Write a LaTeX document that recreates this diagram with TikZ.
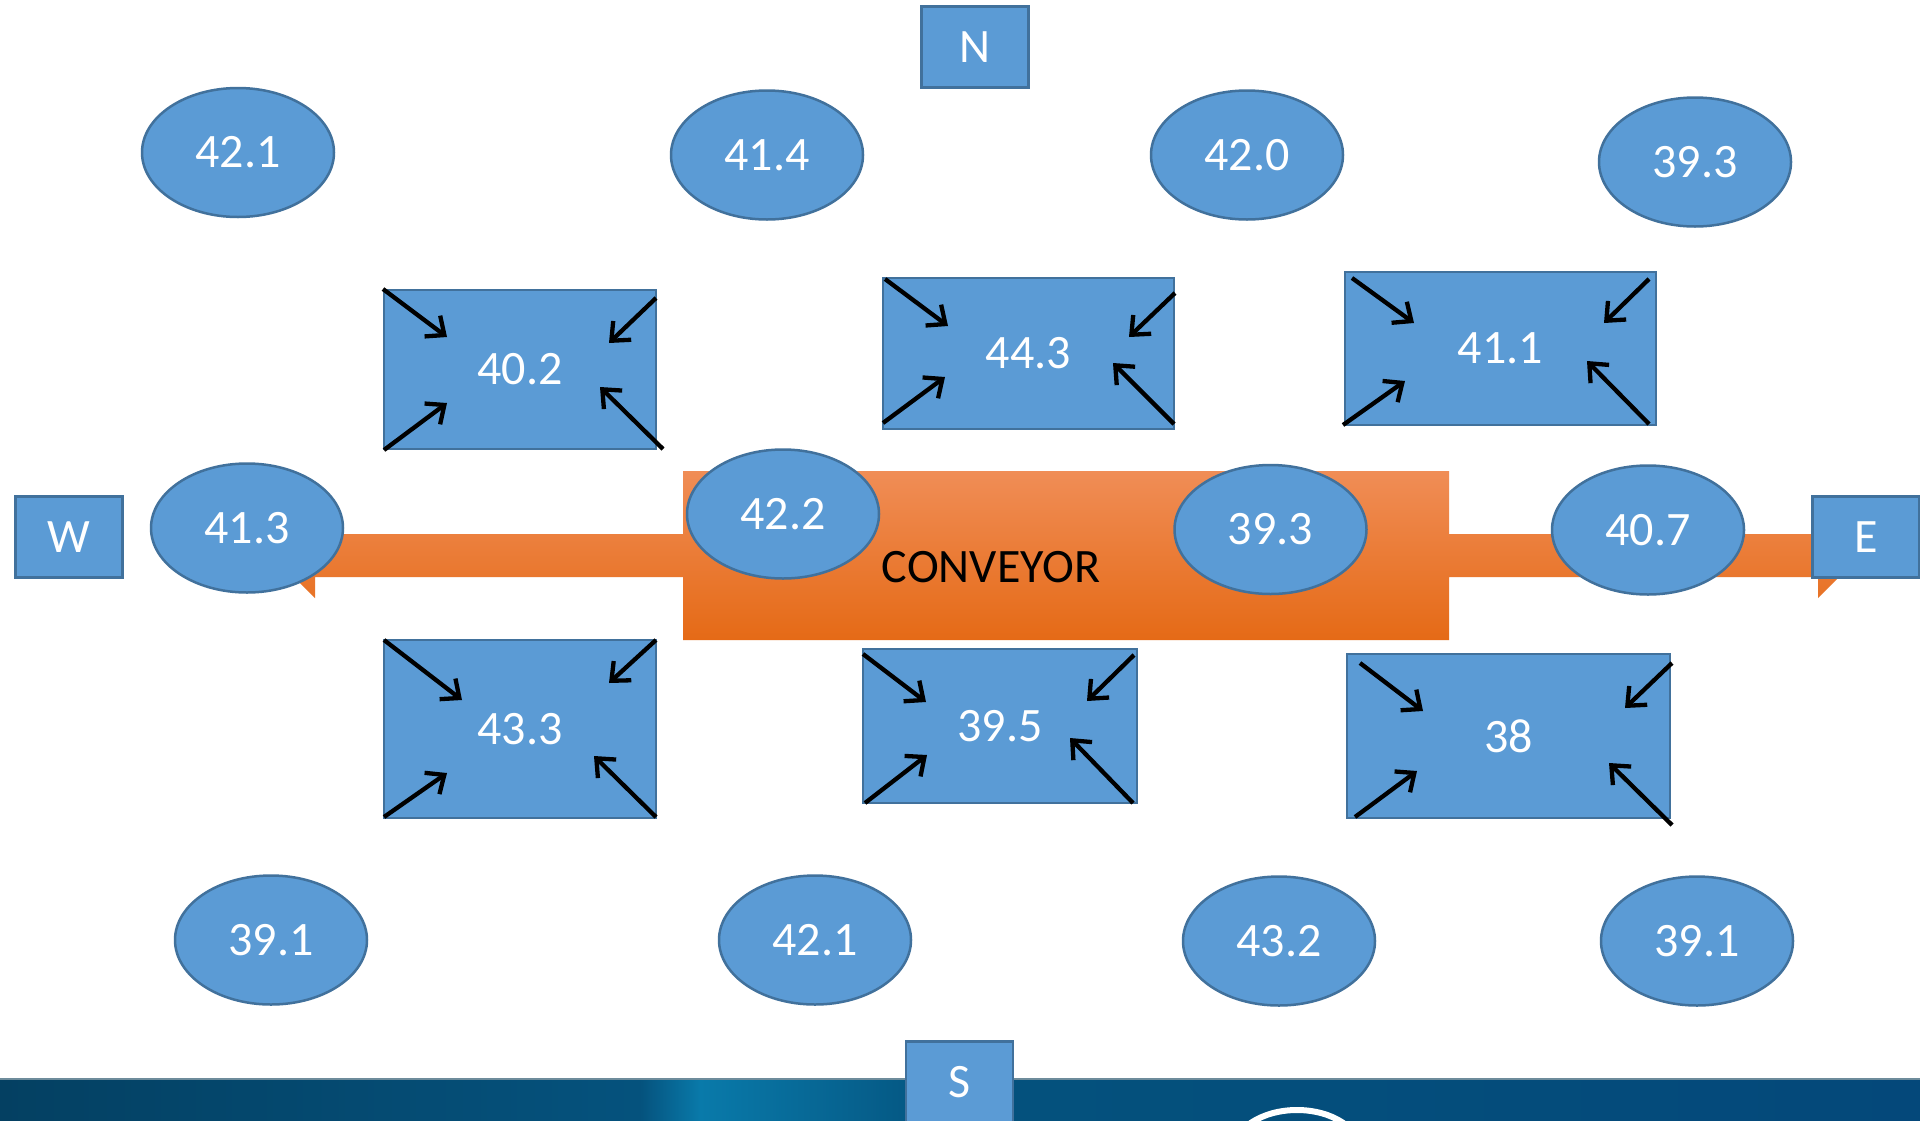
\documentclass[tikz,border=0pt]{standalone}
\usepackage{fontspec}
\setmainfont{Carlito}
\usetikzlibrary{arrows.meta,shapes.geometric}
\definecolor{bfill}{RGB}{91,155,213}
\definecolor{bline}{RGB}{65,113,156}
\definecolor{orTop}{RGB}{240,141,86}
\definecolor{orMid}{RGB}{244,128,46}
\definecolor{orBot}{RGB}{229,106,22}
\definecolor{bandA}{RGB}{4,64,98}
\definecolor{bandB}{RGB}{5,82,125}
\definecolor{bandC}{RGB}{9,122,170}
\definecolor{bandD}{RGB}{4,82,125}
\definecolor{bandE}{RGB}{4,72,122}
\begin{document}
\begin{tikzpicture}[x=1pt,y=-1pt,
  every node/.style={font=\fontsize{48}{56}\selectfont, text=white},
  oval/.style={ellipse, draw=bline, fill=bfill, line width=2.5pt, minimum width=192pt, minimum height=129pt, inner sep=0pt},
  dirbox/.style={rectangle, draw=bline, fill=bfill, line width=2.5pt, minimum width=107pt, minimum height=81pt, inner sep=0pt},
  zone/.style={rectangle, draw=bline, fill=bfill, line width=2.5pt, inner sep=0pt},
  inarrow/.style={draw=black, line width=4.3pt, -{Straight Barb[length=15pt,width=26pt]}}
]
\useasboundingbox (0,0) rectangle (1920,1120);
\fill[white] (0,0) rectangle (1920,1120);

% bottom band
\shade[left color=bandA, right color=bandB] (0,1079) rectangle (641,1121);
\shade[left color=bandB, right color=bandC] (640,1079) rectangle (701,1121);
\shade[left color=bandC, right color=bandD] (700,1079) rectangle (951,1121);
\shade[left color=bandD, right color=bandE] (950,1079) rectangle (1920,1121);
\draw[color={rgb,255:red,110;green,140;blue,155}, line width=2pt] (0,1079) -- (1920,1079);
\begin{scope}
\clip (0,1080) rectangle (1920,1120);
\draw[white, line width=6pt] (1297,1152) ellipse [x radius=64pt, y radius=42pt];
\end{scope}

% conveyor
\shade[top color=orTop, middle color=orMid, bottom color=orBot]
  (272,555.5) -- (315,513) -- (315,534) -- (683,534) -- (683,471) -- (1449,471)
  -- (1449,534) -- (1818,534) -- (1818,513) -- (1860.5,555.5) -- (1818,598)
  -- (1818,577) -- (1449,577) -- (1449,640) -- (683,640) -- (683,577)
  -- (315,577) -- (315,598) -- cycle;
\node[text=black] (conv) at (991,567) {CONVEYOR};

% direction boxes
\node[dirbox] (N) at (975,47) {N};
\node[dirbox] (W) at (69,537) {W};
\node[dirbox] (E) at (1866,537) {E};
\node[dirbox] (S) at (959.5,1082) {S};

% ovals
\node[oval] (o1) at (238,152.5) {42.1};
\node[oval] (o2) at (767,155) {41.4};
\node[oval] (o3) at (1247,155) {42.0};
\node[oval] (o4) at (1695,162) {39.3};
\node[oval] (o5) at (247,528) {41.3};
\node[oval] (o6) at (783,514) {42.2};
\node[oval] (o7) at (1270.5,529.5) {39.3};
\node[oval] (o8) at (1648,530) {40.7};
\node[oval] (o9) at (271,940) {39.1};
\node[oval] (o10) at (815,940) {42.1};
\node[oval] (o11) at (1279,941) {43.2};
\node[oval] (o12) at (1697,941) {39.1};

% zones
\node[zone, minimum width=272pt, minimum height=159pt] (z1) at (520,369.5) {40.2};
\node[zone, minimum width=291pt, minimum height=151pt] (z2) at (1028.5,353.5) {44.3};
\node[zone, minimum width=311pt, minimum height=153pt] (z3) at (1500.5,348.5) {41.1};
\node[zone, minimum width=272pt, minimum height=178pt] (z4) at (520,729) {43.3};
\node[zone, minimum width=274pt, minimum height=154pt] (z5) at (1000,726) {39.5};
\node[zone, minimum width=323pt, minimum height=164pt] (z6) at (1508.5,736) {38};

% arrows into zones
\draw[inarrow] (383,289) -- (447,337);
\draw[inarrow] (656,298) -- (609,343);
\draw[inarrow] (384,450) -- (447,403);
\draw[inarrow] (663,449) -- (600,387);

\draw[inarrow] (885,279) -- (948,326);
\draw[inarrow] (1175,293) -- (1129,337);
\draw[inarrow] (883,423) -- (945,377);
\draw[inarrow] (1174,424) -- (1113,363);

\draw[inarrow] (1352,278) -- (1414,323);
\draw[inarrow] (1649,279) -- (1604,323);
\draw[inarrow] (1343,425) -- (1405,381);
\draw[inarrow] (1649,424) -- (1587,361);

\draw[inarrow] (384,640) -- (462,700);
\draw[inarrow] (656,640) -- (609,683);
\draw[inarrow] (384,817) -- (447,773);
\draw[inarrow] (656,817) -- (594,756);

\draw[inarrow] (863,654) -- (926,702);
\draw[inarrow] (1134,655) -- (1087,701);
\draw[inarrow] (865,803) -- (927,755);
\draw[inarrow] (1133,803) -- (1070,738);

\draw[inarrow] (1360,663) -- (1423,711);
\draw[inarrow] (1672,663) -- (1625,708);
\draw[inarrow] (1355,817) -- (1417,771);
\draw[inarrow] (1672,825) -- (1609,763);
\end{tikzpicture}
\end{document}
